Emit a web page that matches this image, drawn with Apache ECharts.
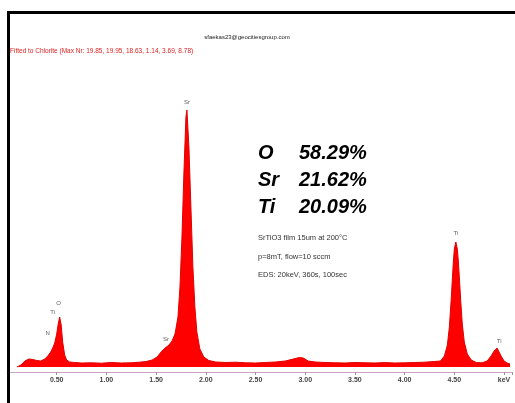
<!DOCTYPE html>
<html><head><meta charset="utf-8">
<script src="https://cdn.jsdelivr.net/npm/echarts@6/dist/echarts.min.js"></script>
<style>html,body{margin:0;padding:0;background:#fff}#c{width:515px;height:403px}</style>
</head><body><div id="c"></div>
<script>
// Spectrum (energy in keV, counts)
const energy = [0.10,0.14,0.18,0.22,0.26,0.30,0.34,0.38,0.41,0.44,0.46,0.48,0.50,0.515,0.53,0.545,0.56,0.58,0.60,0.63,0.68,0.75,0.85,0.95,1.05,1.15,1.25,1.33,1.40,1.46,1.51,1.55,1.59,1.63,1.66,1.69,1.72,1.74,1.76,1.78,1.80,1.81,1.83,1.85,1.87,1.89,1.91,1.94,1.98,2.03,2.10,2.20,2.30,2.40,2.50,2.60,2.70,2.80,2.88,2.94,2.98,3.03,3.10,3.20,3.30,3.40,3.50,3.60,3.70,3.80,3.90,4.00,4.10,4.20,4.30,4.36,4.40,4.43,4.45,4.47,4.48,4.49,4.50,4.515,4.53,4.54,4.55,4.565,4.58,4.60,4.63,4.67,4.72,4.78,4.83,4.87,4.90,4.93,4.95,4.97,5.00,5.03,5.06,5.08];
const counts = [0,20,60,80,75,65,60,80,110,150,190,240,330,430,500,420,250,120,70,50,45,40,42,38,45,40,42,48,55,70,100,150,190,220,260,330,500,800,1300,1950,2500,2570,2200,1600,1000,600,350,180,100,65,50,45,48,42,40,45,50,60,80,95,90,60,50,45,42,40,45,42,40,44,40,42,45,48,55,60,110,220,400,700,880,1050,1180,1250,1180,1060,900,650,430,250,130,70,45,42,60,110,160,190,170,110,60,40,30];

// Peak labels [energy, counts, text]
const peakE = [0.52, 0.46, 0.41, 1.81, 1.60, 4.515, 4.95];
const peakC = [640, 550, 340, 2650, 280, 1340, 260];
const peakT = ['O', 'Ti', 'N', 'Sr', 'Sr', 'Ti', 'Ti'];

// Composition text
const elements = ['O', 'Sr', 'Ti'];
const percents = ['58.29%', '21.62%', '20.09%'];
const notes = ['SrTiO3 film 15um at 200°C', 'p=8mT, flow=10 sccm', 'EDS: 20keV, 360s, 100sec'];
const headerTop = 'sfaekas23@geocitiesgroup.com';
const headerRed = 'Fitted to Chlorite (Max Nr: 19.85, 19.95, 18.63, 1.14, 3.69, 8.78)';

const ff = '"Liberation Sans", Arial, sans-serif';
const chart = echarts.init(document.getElementById('c'));
const graphics = [
  {type:'rect', shape:{x:8.5, y:12.5, width:520, height:400}, style:{fill:'none', stroke:'#000', lineWidth:3}, z:100},
  {type:'text', x:247, y:37, style:{text:headerTop, font:'6px '+ff, fill:'#222', align:'center', verticalAlign:'middle'}},
  {type:'text', x:10, y:51, style:{text:headerRed, font:'6.5px '+ff, fill:'#e02020', align:'left', verticalAlign:'middle'}}
];
elements.forEach((e,i)=>{
  graphics.push({type:'text', x:258, y:153+27*i, style:{text:e, font:'italic bold 20px '+ff, fill:'#000', align:'left', verticalAlign:'middle'}});
  graphics.push({type:'text', x:299, y:153+27*i, style:{text:percents[i], font:'italic bold 20px '+ff, fill:'#000', align:'left', verticalAlign:'middle'}});
});
notes.forEach((n,i)=>{
  graphics.push({type:'text', x:258, y:238+18.5*i, style:{text:n, font:'7.5px '+ff, fill:'#333', align:'left', verticalAlign:'middle'}});
});

chart.setOption({
  animation:false,
  grid:{left:7, right:0, top:72, bottom:31, containLabel:false},
  xAxis:{type:'value', min:0, max:5.08, interval:0.5,
    axisLine:{onZero:false, lineStyle:{color:'#c9a3c9', width:1}},
    axisTick:{show:true, length:3, lineStyle:{color:'#999'}},
    splitLine:{show:false},
    axisLabel:{fontSize:7, fontWeight:'bold', color:'#444', fontFamily:'Liberation Sans', margin:5,
      formatter:v=>{ if (Math.abs(v-5)<1e-6) return 'keV'; if (v<0.01 || Math.abs(v*2-Math.round(v*2))>1e-6) return ''; return v.toFixed(2);} }},
  yAxis:{type:'value', min:-50, max:2950, show:false, splitLine:{show:false}},
  series:[
    {type:'line', data:energy.map((e,i)=>[e,counts[i]]), symbol:'none', smooth:false,
     lineStyle:{color:'#e00000', width:1}, areaStyle:{color:'#ff0000', opacity:1, origin:0}, itemStyle:{color:'#ff0000'}},
    {type:'scatter', data:peakE.map((e,i)=>[e,peakC[i],peakT[i]]), symbolSize:0,
     label:{show:true, position:'inside', formatter:p=>p.data[2], fontSize:6, color:'#333', fontFamily:'Liberation Sans'}}
  ],
  graphic:graphics
});
</script></body></html>
